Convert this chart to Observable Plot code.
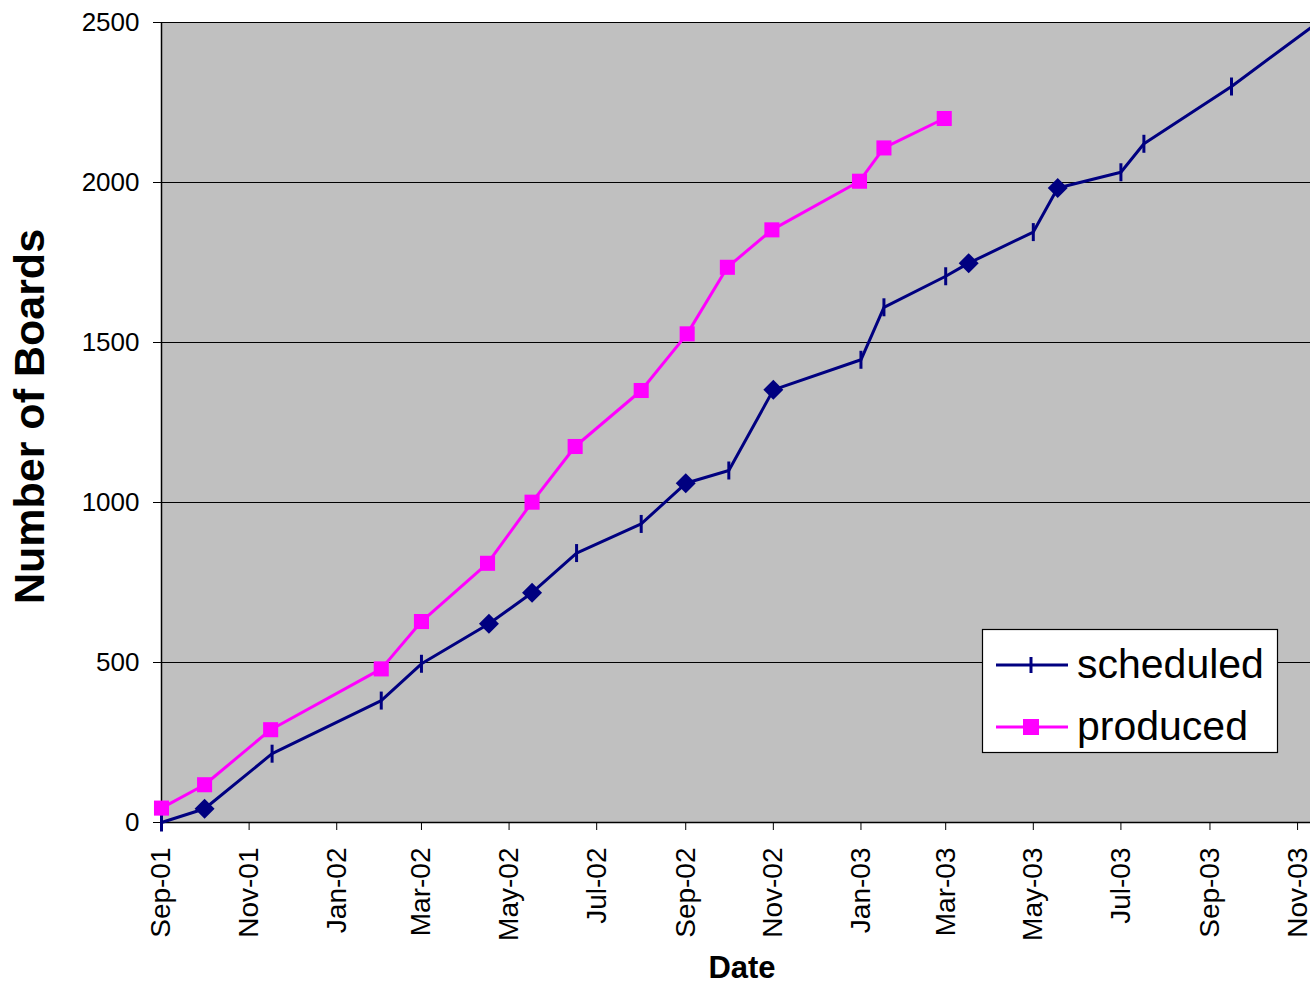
<!DOCTYPE html>
<html>
<head>
<meta charset="utf-8">
<script src="https://cdn.jsdelivr.net/npm/d3@7"></script>
<script src="https://cdn.jsdelivr.net/npm/@observablehq/plot@0.6"></script>
<style>
  html, body { margin: 0; padding: 0; background: #fff; }
  #chart { width: 1310px; height: 987px; }
</style>
</head>
<body>
<div id="chart"></div>
<script>
// Cumulative board counts: planned schedule vs. actual production
const scheduledDates = [
  "2001-09-01", "2001-10-01", "2001-11-17", "2002-02-01", "2002-03-01", "2002-04-17",
  "2002-05-17", "2002-06-17", "2002-08-01", "2002-09-01", "2002-10-01", "2002-11-01",
  "2003-01-01", "2003-01-17", "2003-03-01", "2003-03-17", "2003-05-01", "2003-05-18",
  "2003-07-01", "2003-07-17", "2003-09-16", "2003-11-10"
];
const scheduledCounts = [
  0, 43, 215, 381, 496, 621,
  718, 842, 933, 1060, 1100, 1352,
  1446, 1610, 1707, 1748, 1845, 1983,
  2032, 2121, 2300, 2483
];
// Milestone deliveries in the schedule (shown as diamonds)
const scheduledMilestones = [
  false, true, false, false, false, true,
  true, false, false, true, false, true,
  false, false, false, true, false, true,
  false, false, false, null
];

const producedDates = [
  "2001-09-01", "2001-10-01", "2001-11-16", "2002-02-01", "2002-03-01", "2002-04-16",
  "2002-05-17", "2002-06-16", "2002-08-01", "2002-09-02", "2002-09-30", "2002-10-31",
  "2002-12-31", "2003-01-17", "2003-02-28"
];
const producedCounts = [
  45, 118, 290, 480, 628, 810,
  1001, 1175, 1350, 1527, 1735, 1852,
  2004, 2108, 2200
];

const axisStart = "2001-09-01";
const axisEnd = "2003-11-10";
const xTickDates = [
  "2001-09-01", "2001-11-01", "2002-01-01", "2002-03-01", "2002-05-01", "2002-07-01",
  "2002-09-01", "2002-11-01", "2003-01-01", "2003-03-01", "2003-05-01", "2003-07-01",
  "2003-09-01", "2003-11-01"
];
const yTicks = [0, 500, 1000, 1500, 2000, 2500];

const seriesNames = ["scheduled", "produced"];

const parse = d3.utcParse("%Y-%m-%d");
const scheduled = scheduledDates.map((d, i) => ({
  date: parse(d), count: scheduledCounts[i], milestone: scheduledMilestones[i]
}));
const produced = producedDates.map((d, i) => ({ date: parse(d), count: producedCounts[i] }));

const navy = "#000080";
const magenta = "#ff00ff";
const font = "'Liberation Sans', Arial, Helvetica, sans-serif";

// Short vertical bar marker
const vbar = {
  draw(ctx, size) {
    const h = Math.sqrt(size / Math.PI);
    ctx.moveTo(0, -h);
    ctx.lineTo(0, h);
  }
};

const chart = Plot.plot({
  width: 1310,
  height: 987,
  marginTop: 22,
  marginRight: 0,
  marginBottom: 165,
  marginLeft: 161,
  style: { fontFamily: font, background: "#fff", color: "#000", overflow: "visible" },
  x: { type: "utc", domain: [parse(axisStart), parse(axisEnd)] },
  y: { domain: [0, 2500] },
  marks: [
    Plot.frame({ fill: "#c0c0c0", stroke: "none" }),
    Plot.ruleY(yTicks.filter(v => v > 0), { stroke: "#000", strokeWidth: 1.2 }),
    Plot.axisY({
      ticks: yTicks, tickFormat: d => String(d), tickSize: 8, tickPadding: 14,
      fontSize: 26, label: null, stroke: "#000"
    }),
    Plot.axisX({
      ticks: xTickDates.map(parse), tickFormat: d3.utcFormat("%b-%y"), tickSize: 8,
      tickPadding: 17, tickRotate: -90, fontSize: 28, label: null, stroke: "#000"
    }),
    Plot.ruleY([0], { stroke: "#000", strokeWidth: 1.5 }),
    Plot.ruleX([parse(axisStart)], { stroke: "#000", strokeWidth: 1.5 }),

    Plot.line(scheduled, { x: "date", y: "count", stroke: navy, strokeWidth: 3 }),
    Plot.dot(scheduled.filter(d => d.milestone === true), {
      x: "date", y: "count", symbol: "diamond2", r: 9, fill: navy, stroke: "none"
    }),
    Plot.dot(scheduled.filter(d => d.milestone === false), {
      x: "date", y: "count", symbol: vbar, r: 9, stroke: navy, strokeWidth: 3, fill: "none"
    }),

    Plot.line(produced, { x: "date", y: "count", stroke: magenta, strokeWidth: 3 }),
    Plot.dot(produced, {
      x: "date", y: "count", symbol: "square", r: 8.5, fill: magenta, stroke: "none"
    }),

    Plot.text(["Number of Boards"], {
      text: d => d, frameAnchor: "left", textAnchor: "middle", dx: -131, dy: -6, rotate: -90,
      fontSize: 43, fontWeight: "bold", fill: "#000"
    }),
    Plot.text(["Date"], {
      text: d => d, frameAnchor: "bottom", dx: 6, dy: 155,
      fontSize: 31, fontWeight: "bold", fill: "#000"
    })
  ]
});

document.getElementById("chart").appendChild(chart);

// Legend box inside the plot area
const svg = d3.select(chart);
const lg = svg.append("g").attr("font-family", font).attr("text-anchor", "start");
lg.append("rect")
  .attr("x", 982.5).attr("y", 629.5).attr("width", 295).attr("height", 123)
  .attr("fill", "#fff").attr("stroke", "#000").attr("stroke-width", 1.2);

const rows = [
  { name: seriesNames[0], color: navy, y: 665 },
  { name: seriesNames[1], color: magenta, y: 727 }
];
rows.forEach((r, i) => {
  lg.append("line")
    .attr("x1", 996).attr("x2", 1068).attr("y1", r.y).attr("y2", r.y)
    .attr("stroke", r.color).attr("stroke-width", 3);
  if (i === 0) {
    lg.append("line")
      .attr("x1", 1031).attr("x2", 1031).attr("y1", r.y - 8).attr("y2", r.y + 8)
      .attr("stroke", r.color).attr("stroke-width", 3);
  } else {
    lg.append("rect")
      .attr("x", 1031 - 8).attr("y", r.y - 8).attr("width", 16).attr("height", 16)
      .attr("fill", r.color);
  }
  lg.append("text")
    .attr("x", 1077).attr("y", r.y + 13)
    .attr("text-anchor", "start")
    .attr("font-size", 41).attr("fill", "#000")
    .text(r.name);
});
</script>
</body>
</html>
